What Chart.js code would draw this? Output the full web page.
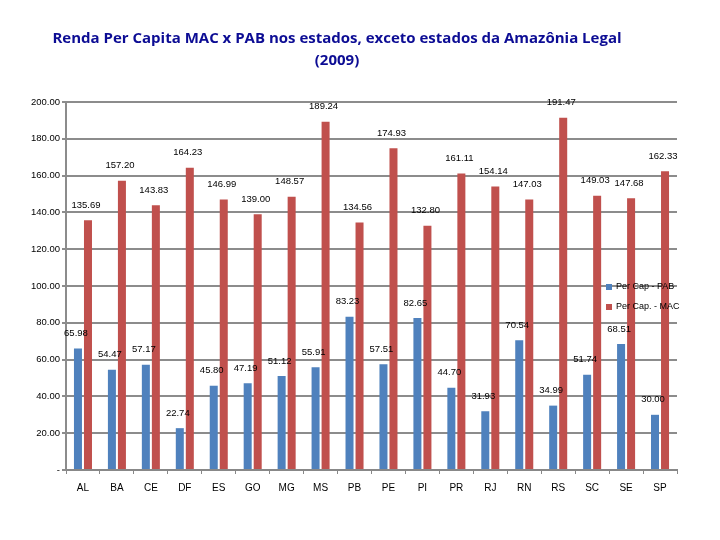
<!DOCTYPE html>
<html>
<head>
<meta charset="utf-8">
<script src="https://cdn.jsdelivr.net/npm/chart.js@4"></script>
<style>
  html, body { margin: 0; padding: 0; background: #fff; }
  #wrap { width: 720px; height: 540px; position: relative; }
</style>
</head>
<body>
<div id="wrap"><canvas id="renda_chart"></canvas></div>
<script>
// estados (sem Amazônia Legal)
var categories = ['AL', 'BA', 'CE', 'DF', 'ES', 'GO', 'MG', 'MS', 'PB', 'PE', 'PI', 'PR', 'RJ', 'RN', 'RS', 'SC', 'SE', 'SP'];
var pabValues = [65.98, 54.47, 57.17, 22.74, 45.80, 47.19, 51.12, 55.91, 83.23, 57.51, 82.65, 44.70, 31.93, 70.54, 34.99, 51.74, 68.51, 30.00];
var macValues = [135.69, 157.20, 143.83, 164.23, 146.99, 139.00, 148.57, 189.24, 134.56, 174.93, 132.80, 161.11, 154.14, 147.03, 191.47, 149.03, 147.68, 162.33];
var seriesNames = ['Per Cap - PAB', 'Per Cap. - MAC'];
var titleLines = ['Renda Per Capita MAC x PAB nos estados, exceto estados da Amazônia Legal', '(2009)'];

var BLUE = '#4F81BD';
var RED = '#C0504D';

// rótulos de valor, título e legenda desenhados à mão
var extras = {
  id: 'extras',
  afterDatasetsDraw: function(chart) {
    var ctx = chart.ctx;
    ctx.save();
    ctx.font = '9.5px "Liberation Sans", Arial, sans-serif';
    ctx.fillStyle = '#000';
    ctx.textAlign = 'center';
    ctx.textBaseline = 'middle';
    chart.data.datasets.forEach(function(ds, i) {
      var meta = chart.getDatasetMeta(i);
      meta.data.forEach(function(bar, j) {
        ctx.fillText(ds.data[j].toFixed(2), bar.x - 2, bar.y - 15);
      });
    });

    // título
    ctx.fillStyle = '#0c0c94';
    ctx.font = 'bold 15px "Open Sans", sans-serif';
    ctx.fillText(titleLines[0], 337, 39);
    ctx.fillText(titleLines[1], 337, 61);

    // legenda
    var colors = [BLUE, RED];
    ctx.font = '9px "Liberation Sans", Arial, sans-serif';
    ctx.textAlign = 'left';
    for (var k = 0; k < 2; k++) {
      var y = 287 + k * 20;
      ctx.fillStyle = colors[k];
      ctx.fillRect(606, y - 3, 6, 6);
      ctx.fillStyle = '#000';
      ctx.fillText(seriesNames[k], 616, y);
    }
    ctx.restore();
  }
};

var ctx = document.getElementById('renda_chart').getContext('2d');
var chart = new Chart(ctx, {
  type: 'bar',
  data: {
    labels: categories,
    datasets: [
      { label: seriesNames[0], data: pabValues, backgroundColor: BLUE, barPercentage: 0.8, categoryPercentage: 0.59 },
      { label: seriesNames[1], data: macValues, backgroundColor: RED, barPercentage: 0.8, categoryPercentage: 0.59 }
    ]
  },
  options: {
    responsive: true,
    maintainAspectRatio: false,
    animation: false,
    layout: { padding: { top: 102, right: 43, left: 0, bottom: 0 } },
    plugins: {
      legend: { display: false },
      title: { display: false },
      tooltip: { enabled: false }
    },
    scales: {
      x: {
        grid: { drawOnChartArea: false, drawTicks: true, tickLength: 4, color: '#888', lineWidth: 1 },
        border: { color: '#888', width: 2 },
        ticks: { color: '#000', font: { size: 10, family: '"Liberation Sans", Arial, sans-serif' }, padding: 8, maxRotation: 0 },
        afterFit: function(scale) { scale.height = 70; }
      },
      y: {
        min: 0,
        max: 200,
        grid: { color: '#8c8c8c', lineWidth: 2, tickLength: 4 },
        border: { color: '#8c8c8c', width: 2 },
        ticks: {
          stepSize: 20,
          color: '#000',
          padding: 2,
          font: { size: 9.5, family: '"Liberation Sans", Arial, sans-serif' },
          callback: function(v) { return v === 0 ? '-' : v.toFixed(2); }
        },
        afterFit: function(scale) { scale.width = 66; }
      }
    }
  },
  plugins: [extras]
});
</script>
</body>
</html>
